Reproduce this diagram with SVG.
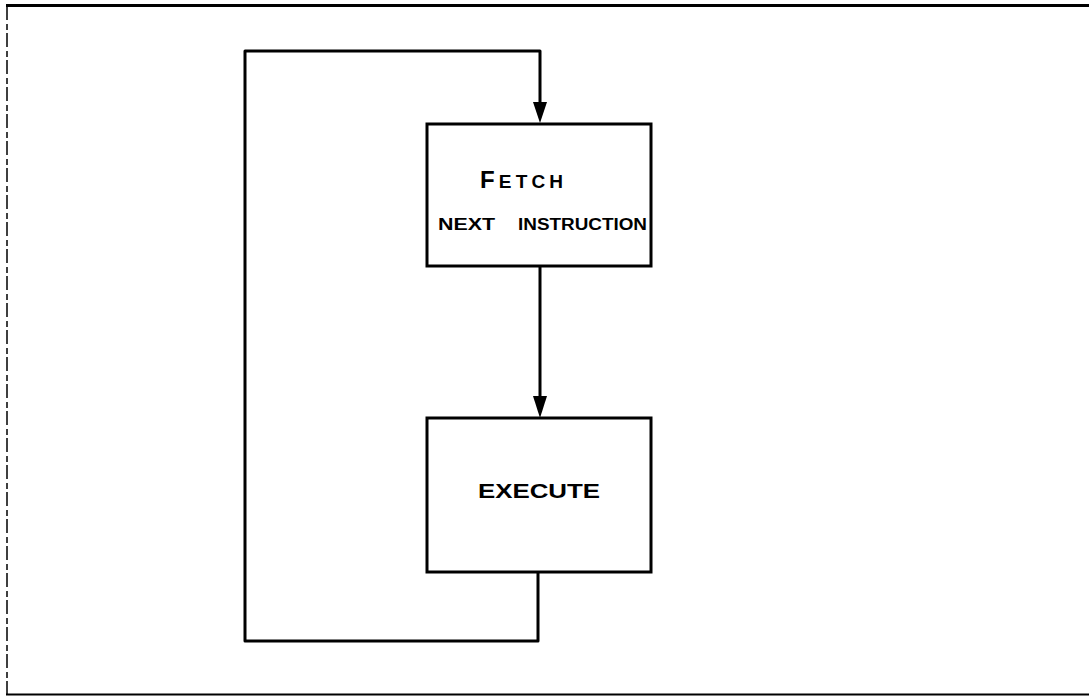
<svg xmlns="http://www.w3.org/2000/svg" width="1089" height="696" viewBox="0 0 1089 696">
<style>
.box{fill:#fff;stroke:#000;stroke-width:3}
.conn{fill:none;stroke:#000;stroke-width:3;stroke-linejoin:round}
.lbl{font-family:"Liberation Sans",Arial,sans-serif;font-weight:bold;fill:#000}
.frame{fill:none;stroke:#000}
</style>
<g id="frame">
<line class="frame" x1="6" y1="5.5" x2="1089" y2="5.5" stroke-width="3"/>
<line class="frame" x1="7" y1="6" x2="7" y2="694" stroke-width="1.5" stroke-dasharray="14,4,6,3"/>
<line class="frame" x1="6" y1="694.5" x2="1089" y2="694.5" stroke-width="2"/>
</g>
<g id="connectors">
<path class="conn" d="M538,572 L538,641 L245,641 L245,51 L540,51 L540,104"/>
<path d="M533,102 L547,102 L540,123 Z" fill="#000"/>
<path class="conn" d="M540,266 L540,398"/>
<path d="M533,396 L547,396 L540,418 Z" fill="#000"/>
</g>
<g id="fetch">
<rect class="box" x="427" y="124" width="224" height="142"/>
<text class="lbl" x="480" y="188" font-size="24" textLength="83" lengthAdjust="spacing">F<tspan font-size="19">ETCH</tspan></text>
<text class="lbl" x="438" y="230" font-size="16"><tspan textLength="57" lengthAdjust="spacingAndGlyphs">NEXT</tspan><tspan x="518" textLength="129" lengthAdjust="spacingAndGlyphs">INSTRUCTION</tspan></text>
</g>
<g id="execute">
<rect class="box" x="427" y="418" width="224" height="154"/>
<text class="lbl" x="478" y="498" font-size="21" textLength="122" lengthAdjust="spacingAndGlyphs">EXECUTE</text>
</g>
</svg>
